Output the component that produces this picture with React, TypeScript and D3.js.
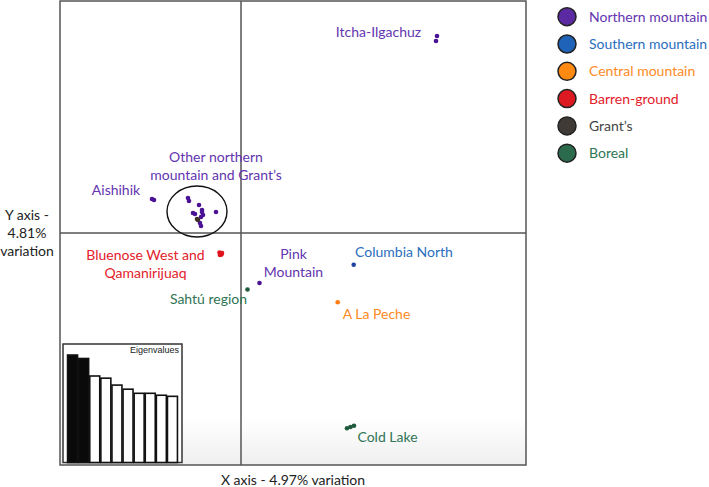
import React from "react";
import * as d3 from "d3";

// ---- data ----
const groups = ["Northern mountain", "Southern mountain", "Central mountain", "Barren-ground", "Grant\u2019s", "Boreal"];
const groupFill = ["#5b2aa3", "#1f63b8", "#ff8a12", "#dd1a22", "#3f3a35", "#2c6a4c"];
const groupText = ["#6335b0", "#2a6ebe", "#ff8a24", "#e3202a", "#444444", "#2f7555"];
const pointFill = ["#4a1294", "#2042a0", "#ff7a10", "#e0121c", "#3b2f26", "#205a3c"];

// PC1 / PC2 scores
const northernPts: [number, number][] = [
  [1.96, 1.97], [1.95, 1.92], // Itcha-Ilgachuz
  [-0.89, 0.34], [-0.87, 0.33], // Aishihik
  [-0.53, 0.35], [-0.52, 0.32], [-0.42, 0.28], [-0.39, 0.23], [-0.39, 0.21], [-0.48, 0.2],
  [-0.46, 0.19], [-0.38, 0.18], [-0.25, 0.21], [-0.41, 0.1], [-0.4, 0.07], [-0.4, 0.16],
  [0.185, -0.5], // Pink Mountain
];
const southernPts: [number, number][] = [[1.127, -0.317]];
const centralPts: [number, number][] = [[0.967, -0.693]];
const barrenPts: [number, number][] = [[-0.215, -0.195], [-0.195, -0.215], [-0.21, -0.22], [-0.19, -0.2]];
const grantsPts: [number, number][] = [[-0.43, 0.13], [-0.44, 0.14]];
const borealPts: [number, number][] = [[0.065, -0.565], [1.06, -1.953], [1.13, -1.927], [1.095, -1.94]];
const seriesPts = [northernPts, southernPts, centralPts, barrenPts, grantsPts, borealPts];

const eigenvalues = [4.97, 4.81, 4.0, 3.9, 3.58, 3.39, 3.2, 3.2, 3.11, 3.06];

const xLabel = "X axis - 4.97% variation";
const yLabelLines = ["Y axis -", "4.81%", "variation"];

const labels: { lines: string[]; g: number; x: number; y: number }[] = [
  { lines: ["Itcha-Ilgachuz"], g: 0, x: 1.375, y: 1.96 },
  { lines: ["Other northern", "mountain and Grant\u2019s"], g: 0, x: -0.25, y: 0.71 },
  { lines: ["Aishihik"], g: 0, x: -1.25, y: 0.38 },
  { lines: ["Bluenose West and", "Qamanirijuaq"], g: 3, x: -0.955, y: -0.27 },
  { lines: ["Sahtú region"], g: 5, x: -0.325, y: -0.71 },
  { lines: ["Pink", "Mountain"], g: 0, x: 0.525, y: -0.26 },
  { lines: ["Columbia North"], g: 1, x: 1.63, y: -0.24 },
  { lines: ["A La Peche"], g: 2, x: 1.355, y: -0.86 },
  { lines: ["Cold Lake"], g: 5, x: 1.465, y: -2.085 },
];

// ---- layout ----
const W = 709, H = 487;
const plot = { left: 60, right: 526, top: 1, bottom: 465 };
const FONT = "Lato, 'Open Sans', sans-serif";
const FS = 14;

export default function App() {
  const x = d3.scaleLinear().domain([-1.81, 2.85]).range([plot.left, plot.right]);
  const y = d3.scaleLinear().domain([-2.32, 2.32]).range([plot.bottom, plot.top]);

  const inset = { left: 63, right: 182, top: 344, bottom: 462.5 };
  const bx = d3.scaleBand<number>().domain(d3.range(eigenvalues.length)).range([inset.left + 4, inset.right - 4]).paddingInner(0.1).paddingOuter(0.05);
  const by = d3.scaleLinear().domain([0, 5.48]).range([inset.bottom, inset.top]);

  const lineH = 18;
  return (
    <svg width={W} height={H} style={{ position: "absolute", left: 0, top: 0, background: "#fff" }} fontFamily={FONT}>
      <defs>
        <linearGradient id="fade" x1="0" y1="0" x2="0" y2="1">
          <stop offset="0" stopColor="#ffffff" />
          <stop offset="0.9" stopColor="#ffffff" />
          <stop offset="1" stopColor="#efefef" />
        </linearGradient>
      </defs>
      <rect x={plot.left} y={plot.top} width={plot.right - plot.left} height={plot.bottom - plot.top} fill="url(#fade)" />
      <line x1={x(0)} x2={x(0)} y1={plot.top} y2={plot.bottom} stroke="#555" strokeWidth={1.5} />
      <line x1={plot.left} x2={plot.right} y1={y(0)} y2={y(0)} stroke="#555" strokeWidth={1.5} />
      <rect x={plot.left} y={plot.top} width={plot.right - plot.left} height={plot.bottom - plot.top} fill="none" stroke="#555" strokeWidth={1.5} />

      <ellipse cx={x(-0.44)} cy={y(0.215)} rx={x(-0.14) - x(-0.44)} ry={y(0.215) - y(0.47)} fill="none" stroke="#111" strokeWidth={1.4} />

      {seriesPts.map((pts, g) =>
        pts.map((p, i) => <circle key={g + "-" + i} cx={x(p[0])} cy={y(p[1])} r={2.3} fill={pointFill[g]} />)
      )}

      {labels.map((l, i) => (
        <text key={i} x={x(l.x)} y={y(l.y)} textAnchor="middle" fontSize={FS} fill={groupText[l.g]}>
          {l.lines.map((t, j) => (
            <tspan key={j} x={x(l.x)} dy={j === 0 ? 0 : lineH}>{t}</tspan>
          ))}
        </text>
      ))}

      <rect x={inset.left} y={inset.top} width={inset.right - inset.left} height={inset.bottom - inset.top} fill="#fff" stroke="#333" strokeWidth={1.5} />
      {eigenvalues.map((v, i) => (
        <rect key={i} x={bx(i)!} y={by(v)} width={bx.bandwidth()} height={inset.bottom - by(v)} fill={i < 2 ? "#0a0a0a" : "#fff"} stroke="#111" strokeWidth={1.6} />
      ))}
      <text x={inset.right - 3} y={inset.top + 8.5} textAnchor="end" fontSize={9} fontFamily="'Liberation Sans', Arial, sans-serif" fill="#222">Eigenvalues</text>

      <text x={293} y={485} textAnchor="middle" fontSize={FS} fill="#222">{xLabel}</text>
      <text x={27} y={220} textAnchor="middle" fontSize={FS} fill="#222">
        {yLabelLines.map((t, j) => (
          <tspan key={j} x={27} dy={j === 0 ? 0 : 18}>{t}</tspan>
        ))}
      </text>

      {groups.map((g, i) => (
        <g key={g} transform={`translate(567,${16.7 + i * 27.3})`}>
          <circle r={9} fill={groupFill[i]} stroke="#222" strokeWidth={1.5} />
          <text x={22} y={5} fontSize={FS} fill={groupText[i]}>{g}</text>
        </g>
      ))}
    </svg>
  );
}
